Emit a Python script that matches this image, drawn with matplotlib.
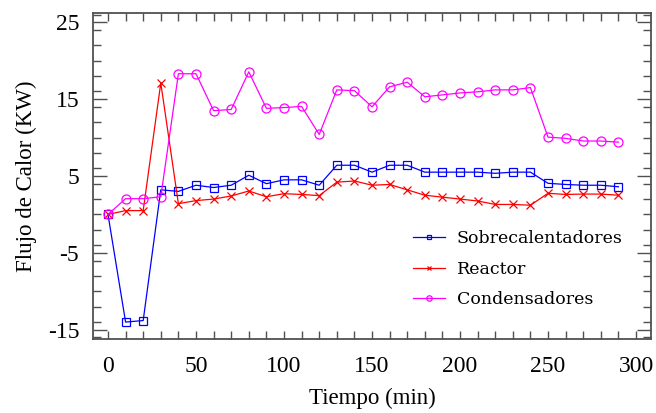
import matplotlib
matplotlib.use("Agg")
import matplotlib.pyplot as plt
from matplotlib.ticker import MultipleLocator

plt.rcParams["axes.unicode_minus"] = False

# Time axis (min)
tiempo = [0, 10, 20, 30, 40, 50, 60, 70, 80, 90, 100, 110, 120, 130, 140,
          150, 160, 170, 180, 190, 200, 210, 220, 230, 240, 250, 260, 270, 280, 290]

# Heat flow per unit (KW)
sobrecalentadores = [0.0, -14.0, -13.8, 3.2, 3.0, 3.8, 3.5, 3.8, 5.1, 4.0,
                     4.5, 4.5, 3.8, 6.4, 6.4, 5.5, 6.4, 6.4, 5.5, 5.5,
                     5.5, 5.5, 5.35, 5.5, 5.5, 4.05, 3.9, 3.8, 3.8, 3.6]
reactor = [0.0, 0.5, 0.5, 17.1, 1.4, 1.8, 2.0, 2.4, 3.05, 2.3,
           2.7, 2.6, 2.45, 4.2, 4.35, 3.8, 3.9, 3.2, 2.5, 2.25,
           2.0, 1.75, 1.3, 1.3, 1.2, 2.75, 2.6, 2.65, 2.65, 2.5]
condensadores = [0.0, 2.05, 2.05, 2.3, 18.3, 18.3, 13.5, 13.65, 18.55, 13.8,
                 13.9, 14.05, 10.4, 16.2, 16.1, 14.0, 16.6, 17.2, 15.3, 15.55,
                 15.8, 15.95, 16.2, 16.2, 16.5, 10.05, 9.9, 9.55, 9.55, 9.4]

series_names = ["Sobrecalentadores", "Reactor", "Condensadores"]
yticks = [-15, -5, 5, 15, 25]
xticks = [0, 50, 100, 150, 200, 250, 300]

serif = ["Liberation Serif", "DejaVu Serif"]

fig = plt.figure(figsize=(6.56, 4.13), dpi=100)
ax = fig.add_axes([0.1418, 0.1792, 0.8506, 0.7893])

styles = [
    dict(color="#0000ff", marker="s", ms=6),
    dict(color="#ff0000", marker="x", ms=6),
    dict(color="#ff00ff", marker="o", ms=6.5),
]
for data, name, st in zip([sobrecalentadores, reactor, condensadores], series_names, styles):
    ax.plot(tiempo, data, color=st["color"], lw=0.9, marker=st["marker"],
            ms=st["ms"], mfc="none", mec=st["color"], mew=0.9, label=name)

ax.set_xlim(-8.5, 308.5)
ax.set_ylim(-16.2, 26.2)
ax.set_xticks(xticks)
ax.set_yticks(yticks)
ax.xaxis.set_minor_locator(MultipleLocator(10))
ax.yaxis.set_minor_locator(MultipleLocator(2))

frame_col = "#505050"
for sp in ax.spines.values():
    sp.set_color(frame_col)
    sp.set_linewidth(1.3)

ax.tick_params(axis="both", which="both", direction="in", top=True, right=True,
               color=frame_col, width=1.0)
ax.tick_params(axis="y", which="major", length=10, pad=10)
ax.tick_params(axis="y", which="minor", length=6)
ax.tick_params(axis="x", which="major", length=6, pad=12)
ax.tick_params(axis="x", which="minor", length=6)

for lbl in ax.get_xticklabels() + ax.get_yticklabels():
    lbl.set_fontfamily(serif)
    lbl.set_fontsize(17)

ax.set_xlabel("Tiempo (min)", family=serif, fontsize=16.5, labelpad=8)
ax.set_ylabel("Flujo de Calor (KW)", family=serif, fontsize=16.5, labelpad=8)

leg = ax.legend(loc="upper left", bbox_to_anchor=(0.561, 0.355), frameon=False,
                prop={"family": "DejaVu Serif", "size": 12.5}, markerscale=0.6,
                handlelength=1.84, handletextpad=0.69, labelspacing=0.78,
                borderaxespad=0)

fig.savefig("out.png", dpi=100)
